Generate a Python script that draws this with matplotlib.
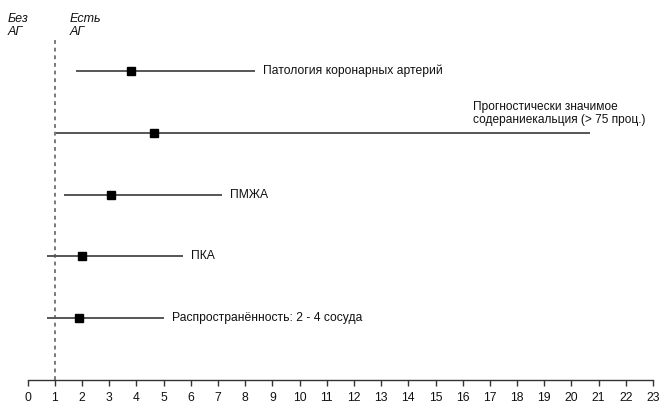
import matplotlib
matplotlib.use("Agg")
import matplotlib.pyplot as plt

plt.rcParams['font.family'] = ['Liberation Sans', 'DejaVu Sans']

# Odds ratios with 95% CI, top to bottom
labels = ['Патология коронарных артерий',
          'Прогностически значимое\nсодераниекальция (> 75 проц.)',
          'ПМЖА',
          'ПКА',
          'Распространённость: 2 - 4 сосуда']
odds = [3.80, 4.65, 3.06, 2.00, 1.89]
ci_low = [1.78, 1.04, 1.34, 0.71, 0.71]
ci_high = [8.36, 20.68, 7.15, 5.71, 5.01]
xticks = list(range(0, 24))

fig = plt.figure(figsize=(6.61, 4.05), dpi=100)
ax = fig.add_axes([27.7 / 661, 25 / 405, (653 - 27.7) / 661, 380 / 405])

rows = [5, 4, 3, 2, 1]
line_col = '#3a3a3a'
for y, o, lo, hi, lab in zip(rows, odds, ci_low, ci_high, labels):
    ax.plot([lo, hi], [y, y], color=line_col, lw=1.2, solid_capstyle='butt')
    ax.plot(o, y, marker='s', ms=6.2, color='black', mec='black')
    if '\n' in lab:
        ax.text(16.38, y + 0.31, lab, fontsize=8.6, va='center', ha='left',
                linespacing=1.15, color='#111')
    else:
        ax.annotate(lab, (hi, y), xytext=(6, 0), textcoords='offset points',
                    fontsize=8.7, va='center', ha='left', color='#111')

# reference line at OR = 1
ax.plot([1, 1], [0, 5.55], color='#555', lw=1.1, ls=(0, (2.5, 2.5)))

ax.set_xlim(0, 23)
ax.set_ylim(0, 6.15)
ax.set_xticks(xticks)
ax.tick_params(axis='x', direction='out', length=4.5, width=1, colors='#333',
               labelsize=8.7, labelcolor='#111', pad=4)
ax.set_yticks([])
for s in ['top', 'right', 'left']:
    ax.spines[s].set_visible(False)
ax.spines['bottom'].set_color('#333')
ax.spines['bottom'].set_linewidth(1)

fig.text(8 / 661, 1 - 13 / 405, 'Без\nАГ', fontsize=9, style='italic',
         va='top', ha='left', linespacing=1.1, color='#111')
fig.text(70 / 661, 1 - 13 / 405, 'Есть\nАГ', fontsize=9, style='italic',
         va='top', ha='left', linespacing=1.1, color='#111')

fig.savefig('out.png', dpi=100)
